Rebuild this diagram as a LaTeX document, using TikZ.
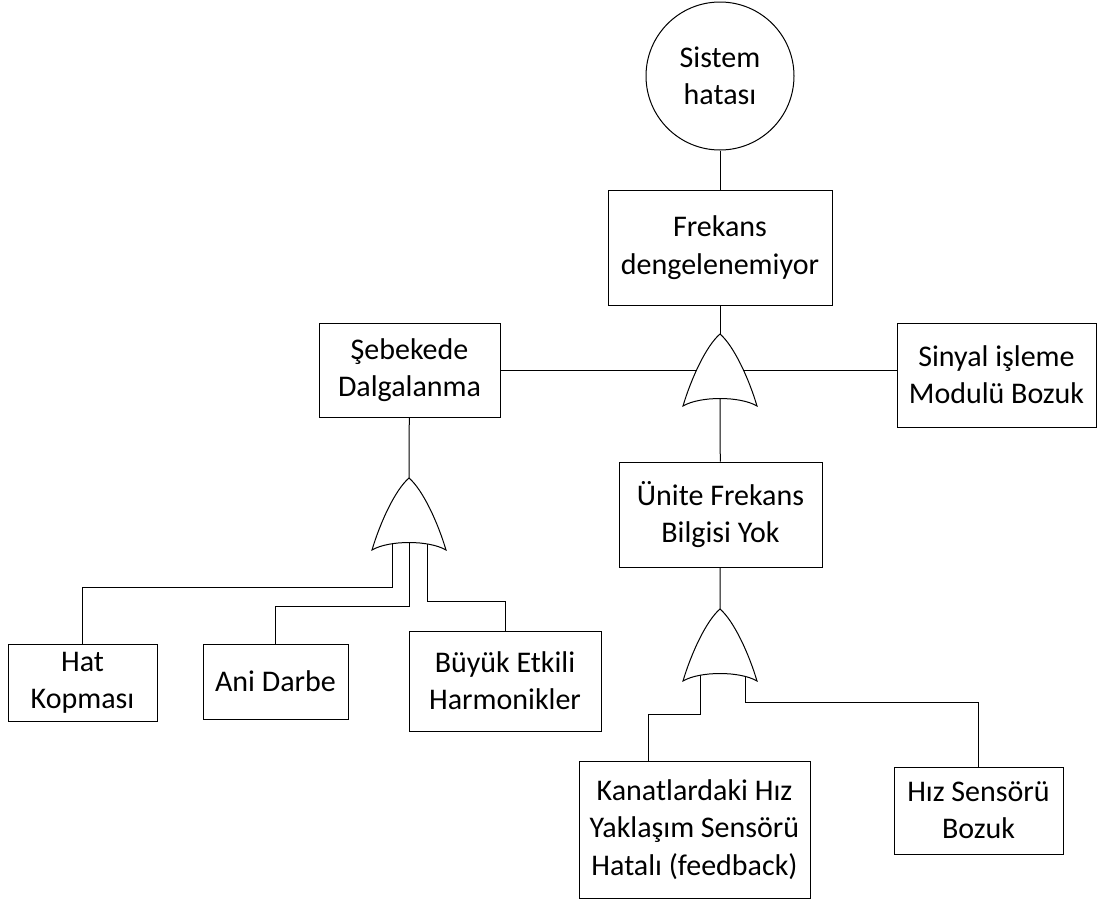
\documentclass[tikz,border=0pt]{standalone}
\usepackage{fontspec}
\setmainfont{Carlito}
\usetikzlibrary{positioning,calc}
\newdimen\px
\px=0.75pt
\tikzset{
  x=0.75pt,y=-0.75pt,
  every path/.style={line width=0.75pt},
  event/.style={draw,align=center,inner sep=0pt,font=\fontsize{22.5pt}{28pt}\selectfont},
  topevent/.style={event,circle,minimum size=148\px},
  orgate/.pic={
    \filldraw[fill=white] (-37,72) .. controls (-29,45) and (-14,12) .. (0,0)
      .. controls (14,12) and (29,45) .. (37,72)
      .. controls (20,62) and (-20,62) .. cycle;
    \coordinate (-tip) at (0,0);
    \coordinate (-in) at (0,62);
  }
}
\begin{document}
\begin{tikzpicture}
  \useasboundingbox (0,0) rectangle (1097,904);
  % events
  \node [topevent] (sistem) at (720,76) {Sistem\\hatası};
  \node [event,minimum width=224\px,minimum height=115\px] (frekans) at (720,247.5) {Frekans\\dengelenemiyor};
  \node [event,minimum width=181\px,minimum height=94\px] (sebeke) at (409.5,370) {Şebekede\\Dalgalanma};
  \node [event,minimum width=199\px,minimum height=104\px] (sinyal) at (996.5,375) {Sinyal işleme\\Modulü Bozuk};
  \node [event,minimum width=203\px,minimum height=105\px] (unite) at (720.5,514.5) {Ünite Frekans\\Bilgisi Yok};
  \node [event,minimum width=149\px,minimum height=77\px] (hat) at (82.5,682.5) {Hat\\Kopması};
  \node [event,minimum width=145\px,minimum height=75\px] (ani) at (275.5,681.5) {Ani Darbe};
  \node [event,minimum width=192\px,minimum height=100\px] (buyuk) at (505,681) {Büyük Etkili\\Harmonikler};
  \node [event,minimum width=231\px,minimum height=137\px] (kanat) at (694.5,829.5) {Kanatlardaki Hız\\Yaklaşım Sensörü\\Hatalı (feedback)};
  \node [event,minimum width=169\px,minimum height=87\px] (hiz) at (978.5,810.5) {Hız Sensörü\\Bozuk};
  % gate positions
  \coordinate (g1) at (720,334);
  \coordinate (g2) at (409,478);
  \coordinate (g3) at (720,609);
  % connectors
  \draw (sistem) -- (frekans);
  \draw (frekans) -- (g1);
  \draw (sebeke.east) -- (sebeke.east -| sinyal.west);
  \draw ($(g1)+(0,62)$) -- (unite);
  \draw (sebeke) -- (g2);
  \draw ([xshift=-17\px]$(g2)+(0,62)$) -- ++(0,47) -| (hat);
  \draw ($(g2)+(0,62)$) -- ++(0,66) -| (ani);
  \draw ([xshift=18\px]$(g2)+(0,62)$) -- ++(0,61) -| (buyuk);
  \draw (unite) -- (g3);
  \draw ([xshift=-20\px]$(g3)+(0,62)$) -- ++(0,43) -| ([xshift=70\px]kanat.north west);
  \draw ([xshift=25\px]$(g3)+(0,62)$) -- ++(0,31) -| (hiz);
  % or gates
  \pic (or1) at (g1) {orgate};
  \pic (or2) at (g2) {orgate};
  \pic (or3) at (g3) {orgate};
\end{tikzpicture}
\end{document}
